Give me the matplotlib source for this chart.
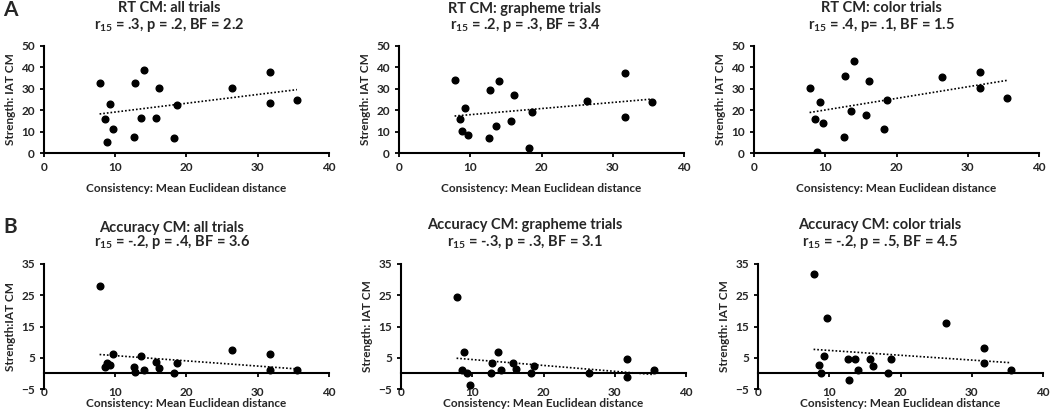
import matplotlib
matplotlib.use("Agg")
import matplotlib.pyplot as plt
import numpy as np

plt.rcParams["font.family"] = ["Lato", "DejaVu Sans"]
plt.rcParams["font.weight"] = "bold"
plt.rcParams["mathtext.fontset"] = "custom"
plt.rcParams["mathtext.rm"] = "Lato:bold"
plt.rcParams["mathtext.it"] = "Lato:bold"
plt.rcParams["mathtext.bf"] = "Lato:bold"

TXT = "#262626"

# consistency (x) per participant
x_vals = [7.8, 8.6, 8.8, 9.3, 9.7, 12.6, 12.8, 13.6, 14.0, 15.7, 16.2, 18.3, 18.6, 26.4, 31.7, 31.7, 35.5]

# RT CM strength
rt_all = [32.5, 15.8, 5.3, 22.7, 11.3, 7.3, 32.8, 16.4, 38.6, 16.4, 30.5, 7.0, 22.2, 30.5, 37.8, 23.4, 24.7]
rt_graph = [34.1, 15.9, 10.5, 21.1, 8.6, 6.9, 29.4, 12.8, 33.8, 15.0, 26.9, 2.3, 19.2, 24.4, 37.5, 17.0, 23.8]
rt_color = [30.5, 15.8, 0.3, 23.8, 13.8, 7.7, 35.9, 19.8, 43.0, 17.8, 33.8, 11.1, 24.7, 35.3, 38.0, 30.5, 25.8]

# Accuracy CM strength
acc_all = [27.9, 1.9, 3.3, 2.7, 6.1, 2.2, 0.6, 5.5, 1.1, 3.8, 1.7, 0.1, 3.3, 7.4, 6.3, 1.2, 1.1]
acc_graph = [24.5, 1.2, 6.8, 0.1, -3.6, 0.1, 3.3, 6.8, 1.2, 3.3, 1.3, 0.1, 2.3, 0.1, 4.7, -1.0, 1.2]
acc_color = [31.7, 2.8, 0.1, 5.5, 17.7, 4.5, -2.1, 4.5, 1.2, 4.5, 2.4, 0.1, 4.7, 16.2, 8.0, 3.2, 1.1]

titles_top = ["RT CM: all trials", "RT CM: grapheme trials", "RT CM: color trials"]
stats_top = [r"r$_{15}$ = .3, p = .2, BF = 2.2", r"r$_{15}$ = .2, p = .3, BF = 3.4",
             r"r$_{15}$ = .4, p= .1, BF = 1.5"]
titles_bot = ["Accuracy CM: all trials", "Accuracy CM: grapheme trials", "Accuracy CM: color trials"]
stats_bot = [r"r$_{15}$ = -.2, p = .4, BF = 3.6", r"r$_{15}$ = -.3, p = .3, BF = 3.1",
             r"r$_{15}$ = -.2, p = .5, BF = 4.5"]
ylabels_bot = ["Strength:IAT CM", "Strength: IAT CM", "Strength: IAT CM"]

W, H = 1050, 412
fig = plt.figure(figsize=(W / 100, H / 100), dpi=100)


def style(ax):
    for s in ["top", "right"]:
        ax.spines[s].set_visible(False)
    for s in ["left", "bottom"]:
        ax.spines[s].set_linewidth(1.5)
        ax.spines[s].set_color("black")
    ax.tick_params(direction="out", length=3, width=1.3, labelsize=8.5,
                   labelcolor=TXT, color="black")
    for lbl in ax.get_xticklabels() + ax.get_yticklabels():
        lbl.set_fontweight("bold")


def panel(ax, y, bottom_row):
    x = np.array(x_vals)
    y = np.array(y)
    ax.plot(x, y, "o", color="black", ms=4.8, zorder=3)
    k, b = np.polyfit(x, y, 1)
    xs = np.array([x.min(), x.max()])
    ax.plot(xs, k * xs + b, color="black", lw=1.2, ls=(0, (1, 1.2)))
    ax.set_xlim(0, 40)
    ax.set_xticks([0, 10, 20, 30, 40])
    if bottom_row:
        ax.set_ylim(-5, 35)
        ax.set_yticks([-5, 5, 15, 25, 35])
    else:
        ax.set_ylim(0, 50)
        ax.set_yticks([0, 10, 20, 30, 40, 50])
    style(ax)
    if bottom_row:
        ax.spines["bottom"].set_position(("data", 0))
        ax.tick_params(axis="x", pad=7)
        ax.set_xlabel("Consistency: Mean Euclidean distance", fontsize=8.5, color=TXT,
                      fontweight="bold", labelpad=0)
    else:
        ax.set_xlabel("Consistency: Mean Euclidean distance", fontsize=8.5, color=TXT,
                      fontweight="bold", labelpad=7)


lefts_top = [44, 399, 754]
lefts_bot = [44, 401, 758]
title_x_top = [169, 525, 881]
title_x_bot = [172, 525, 880]
aw = 285

for i, yv in enumerate([rt_all, rt_graph, rt_color]):
    ax = fig.add_axes([lefts_top[i] / W, 1 - 153 / H, aw / W, (153 - 46) / H])
    panel(ax, yv, False)
    ax.set_ylabel("Strength: IAT CM", fontsize=8.5, color=TXT, fontweight="bold", labelpad=4)
    fig.text(title_x_top[i] / W, 1 - 8.5 / H, titles_top[i], ha="center", va="center",
             fontsize=10.5, fontweight="bold", color=TXT)
    fig.text(title_x_top[i] / W, 1 - 24.5 / H, stats_top[i], ha="center", va="center",
             fontsize=10.5, fontweight="bold", color=TXT)

for i, yv in enumerate([acc_all, acc_graph, acc_color]):
    ax = fig.add_axes([lefts_bot[i] / W, 1 - 389 / H, aw / W, (389 - 264) / H])
    panel(ax, yv, True)
    ax.set_ylabel(ylabels_bot[i], fontsize=8.5, color=TXT, fontweight="bold", labelpad=4)
    ty = 228 if i == 0 else 225
    fig.text(title_x_bot[i] / W, 1 - ty / H, titles_bot[i], ha="center", va="center",
             fontsize=10.5, fontweight="bold", color=TXT)
    fig.text(title_x_bot[i] / W, 1 - 242 / H, stats_bot[i], ha="center", va="center",
             fontsize=10.5, fontweight="bold", color=TXT)

fig.text(3 / W, 1 - 10 / H, "A", fontsize=15, fontweight="bold", va="center", ha="left", color=TXT)
fig.text(3 / W, 1 - 227 / H, "B", fontsize=15, fontweight="bold", va="center", ha="left", color=TXT)

fig.savefig("out.png", dpi=100, facecolor="white")
